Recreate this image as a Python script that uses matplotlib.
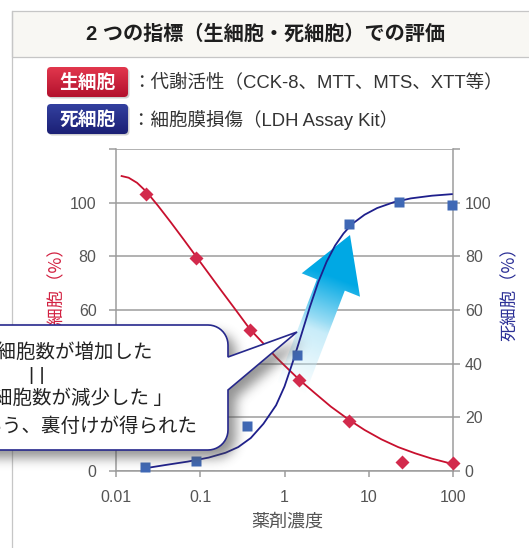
import numpy as np
import matplotlib.pyplot as plt
import matplotlib.colors as mcolors
from matplotlib.patches import FancyBboxPatch, Polygon, Rectangle
from matplotlib.path import Path

# values
conc_live = [0.023, 0.088, 0.39, 1.5, 5.9, 25, 100]
live = [103.4, 79.4, 52.5, 34.0, 18.6, 3.2, 2.9]
conc_dead = [0.022, 0.089, 0.36, 1.4, 5.8, 23, 96]
dead = [1.6, 3.7, 16.7, 43.2, 92.0, 100.4, 99.1]

# fitted curves
live_fit_x = [0.01138, 0.01413, 0.01778, 0.02312, 0.03162, 0.04467, 0.0631, 0.0891,
              0.1259, 0.1778, 0.2512, 0.390, 0.5623, 0.7943, 1.122, 1.500, 2.239,
              3.548, 5.875, 8.913, 14.13, 22.39, 35.48, 56.23, 99.3]
live_fit_y = [110.0, 109.3, 107.4, 104.0, 98.8, 92.7, 86.4, 80.0,
              73.6, 67.2, 60.9, 52.8, 47.5, 42.4, 37.8, 34.0, 29.3,
              24.0, 19.0, 15.3, 11.8, 8.9, 6.6, 4.6, 2.6]
dead_fit_x = [0.02188, 0.03981, 0.07079, 0.1259, 0.1995, 0.2818, 0.3981, 0.5623,
              0.7943, 1.0, 1.259, 1.585, 1.995, 2.512, 3.162, 3.981, 5.012,
              6.310, 8.913, 12.59, 19.95, 31.62, 56.23, 99.3]
dead_fit_y = [1.0, 2.3, 3.5, 5.0, 6.8, 8.9, 12.3, 17.6,
              24.5, 31.5, 40.8, 50.8, 61.0, 70.3, 78.0, 84.0, 88.5,
              92.0, 95.5, 98.0, 100.2, 101.6, 102.6, 103.2]

xticks = [0.01, 0.1, 1, 10, 100]
xtick_labels = ['0.01', '0.1', '1', '10', '100']
yticks = [0, 20, 40, 60, 80, 100, 120]
ytick_labels = ['0', '20', '40', '60', '80', '100', '']

title = '2 つの指標（生細胞・死細胞）での評価'
badges = ['生細胞', '死細胞']
badge_desc = ['：代謝活性（CCK-8、MTT、MTS、XTT等）', '：細胞膜損傷（LDH Assay Kit）']
note_lines = ['死細胞数が増加した', '| |', '「生細胞数が減少した 」', 'という、裏付けが得られた']

RED = '#c8102e'
RED_MK = '#d22a4c'
NAVY = '#1e1f8c'
BLUE_MK = '#3f68b5'
GRID = '#9c9c9c'
TXT = '#555555'
CJK = ['Liberation Sans', 'Noto Sans CJK JP']

plt.rcParams['font.family'] = CJK

W, H = 529, 548
fig = plt.figure(figsize=(W / 100, H / 100), dpi=100)
fig.patch.set_facecolor('white')


def overlay(z):
    a = fig.add_axes([0, 0, 1, 1], zorder=z)
    a.set_xlim(0, W)
    a.set_ylim(H, 0)
    a.axis('off')
    return a


def grad_img(top, bot, n=64):
    c0 = np.array(mcolors.to_rgb(top))
    c1 = np.array(mcolors.to_rgb(bot))
    t = np.linspace(0, 1, n)[:, None, None]
    return c0 + (c1 - c0) * t


# ---- background: frame, header, badges
bg = overlay(0)
bg.add_patch(Rectangle((12, 11), W, 46, facecolor='#f8f7f3', edgecolor='#c6c6c6', lw=0.9))
bg.plot([12, 12], [11, H + 5], color='#c6c6c6', lw=0.9)
bg.text(265, 34, title, ha='center', va='center', fontsize=14.5, weight='bold', color='#1e1e1e')

badge_cols = [('#e2374d', '#b3112d'), ('#33409f', '#1b2075')]
for i, (lab, desc) in enumerate(zip(badges, badge_desc)):
    y0 = 67 + 37 * i
    sh = FancyBboxPatch((48.5, y0 + 1.5), 81, 30, boxstyle='round,pad=0,rounding_size=4',
                        facecolor='#777777', edgecolor='none', alpha=0.35)
    bg.add_patch(sh)
    box = FancyBboxPatch((47, y0), 81, 30, boxstyle='round,pad=0,rounding_size=4',
                         facecolor='none', edgecolor='none')
    bg.add_patch(box)
    im = bg.imshow(grad_img(*badge_cols[i]), extent=(47, 128, y0 + 30, y0), aspect='auto',
                   interpolation='bilinear', zorder=2)
    im.set_clip_path(box)
    bg.text(87.5, y0 + 15.5, lab, ha='center', va='center', color='white', fontsize=13.5,
            weight='bold', zorder=3)
    bg.text(132, y0 + 15.5, desc, ha='left', va='center', color='#333333', fontsize=13.3, zorder=3)
bg.set_xlim(0, W)
bg.set_ylim(H, 0)

# ---- main axes (grid, ticks)
pos = [116 / W, 1 - 471 / H, 337 / W, 322 / H]
ax = fig.add_axes(pos, zorder=1)
ax.set_facecolor('none')
ax.set_xscale('log')
ax.set_xlim(0.01, 100)
ax.set_ylim(0, 120)
ax.set_xticks(xticks)
ax.set_xticklabels(xtick_labels)
ax.xaxis.set_minor_locator(plt.NullLocator())
ax.set_yticks(yticks)
ax.set_yticklabels(ytick_labels)
ax.grid(axis='y', color=GRID, lw=1.1)
ax.grid(axis='x', visible=False)
ax.spines['top'].set_visible(False)
ax.spines['right'].set_visible(False)
for s in ['left', 'bottom']:
    ax.spines[s].set_color(GRID)
    ax.spines[s].set_linewidth(1.1)
ax.tick_params(colors=GRID, labelcolor=TXT, labelsize=11.5, width=1.1)
ax.tick_params(axis='y', length=5, pad=9)
ax.tick_params(axis='x', length=4, pad=10)

axr = ax.twinx()
axr.set_zorder(1.1)
axr.set_ylim(0, 120)
axr.set_yticks(yticks)
axr.set_yticklabels(ytick_labels)
for s in ['top', 'left', 'bottom']:
    axr.spines[s].set_visible(False)
axr.spines['right'].set_color(GRID)
axr.spines['right'].set_linewidth(1.1)
axr.tick_params(colors=GRID, labelcolor=TXT, labelsize=11.5, width=1.1, length=5, pad=3.5)

ax.text(-0.181, 0.562, '生細胞（%）', transform=ax.transAxes, rotation=90, ha='center',
        va='center', color='#d22040', fontsize=12.5, family='Noto Sans CJK JP')
ax.text(1.169, 0.562, '死細胞（%）', transform=ax.transAxes, rotation=90, ha='center',
        va='center', color='#2b2f96', fontsize=12.5, family='Noto Sans CJK JP')
ax.text(0.51, -0.158, '薬剤濃度', transform=ax.transAxes, ha='center', va='center',
        color=TXT, fontsize=13)

# ---- gradient arrow (between grid and curves)
arr = overlay(2)
arrow_pts = [(350, 235), (360, 296.7), (344.8, 290.6), (305.4, 393.3),
             (277.5, 382.1), (316.9, 279.4), (301.7, 273.3)]
arrow_patch = Polygon(arrow_pts, closed=True, facecolor='none', edgecolor='none')
arr.add_patch(arrow_patch)
yy, xx = np.mgrid[0:H, 0:W] + 0.5
t = (xx - 350) * -0.358 + (yy - 235) * 0.934
cyan = np.array(mcolors.to_rgb('#00a8e4'))
m = np.clip((t - 45) / 75, 0, 0.75)[..., None]
rgba = np.zeros((H, W, 4))
rgba[..., :3] = cyan * (1 - m) + m
rgba[..., 3] = np.clip((165 - t) / 75, 0, 1)
im = arr.imshow(rgba, extent=(0, W, H, 0), aspect='auto', interpolation='bilinear')
im.set_clip_path(arrow_patch)
arr.set_xlim(0, W)
arr.set_ylim(H, 0)

# ---- curves and markers
cv = fig.add_axes(pos, zorder=3)
cv.set_xscale('log')
cv.set_xlim(0.01, 100)
cv.set_ylim(0, 120)
cv.axis('off')
cv.plot(live_fit_x, live_fit_y, color=RED, lw=1.3, solid_capstyle='butt', solid_joinstyle='round')
cv.plot(dead_fit_x, dead_fit_y, color=NAVY, lw=1.3, solid_capstyle='butt', solid_joinstyle='round')
cv.plot(conc_live, live, 'D', color=RED_MK, ms=6.8, mec='none', clip_on=False)
cv.plot(conc_dead, dead, 's', color=BLUE_MK, ms=6.8, mec='none', clip_on=False)

# ---- speech bubble with shadow
bub = overlay(4)
r = 20
bx0, bx1, by0, by1 = -200, 228, 325, 450
a1 = np.linspace(-np.pi / 2, 0, 12)
a2 = np.linspace(0, np.pi / 2, 12)
verts = [(bx0, by0)]
verts += [(bx1 - r + r * np.cos(a), by0 + r + r * np.sin(a)) for a in a1]
verts += [(bx1, 357), (297, 332), (bx1, 390)]
verts += [(bx1 - r + r * np.cos(a), by1 - r + r * np.sin(a)) for a in a2]
verts += [(bx0, by1)]
verts = np.array(verts)

shadow_path = Path(verts + np.array([8, 8]))
mask = shadow_path.contains_points(np.c_[xx.ravel(), yy.ravel()]).reshape(H, W).astype(float)
for _ in range(3):
    k = 5
    c = np.cumsum(np.pad(mask, ((0, 0), (k + 1, k)), mode='edge'), axis=1)
    mask = (c[:, 2 * k + 1:] - c[:, :-2 * k - 1]) / (2 * k + 1)
    c = np.cumsum(np.pad(mask, ((k + 1, k), (0, 0)), mode='edge'), axis=0)
    mask = (c[2 * k + 1:, :] - c[:-2 * k - 1, :]) / (2 * k + 1)
sh = np.zeros((H, W, 4))
sh[..., :3] = 0.3
sh[..., 3] = mask * 0.6
bub.imshow(sh, extent=(0, W, H, 0), aspect='auto', interpolation='bilinear', zorder=1)
bub.add_patch(Polygon(verts, closed=True, facecolor='white', edgecolor='#26288c', lw=1.2,
                      joinstyle='miter', zorder=2))
note_pos = [(153, 352, 'right'), (37, 375, 'center'), (173, 398, 'right'), (197, 426, 'right')]
for (x, y, ha), s in zip(note_pos, note_lines):
    fam = 'Liberation Sans' if s == '| |' else 'Noto Sans CJK JP'
    bub.text(x, y, s, ha=ha, va='center', fontsize=14, color='#222222', family=fam, zorder=3)
bub.set_xlim(0, W)
bub.set_ylim(H, 0)

fig.savefig('out.png', dpi=100)
